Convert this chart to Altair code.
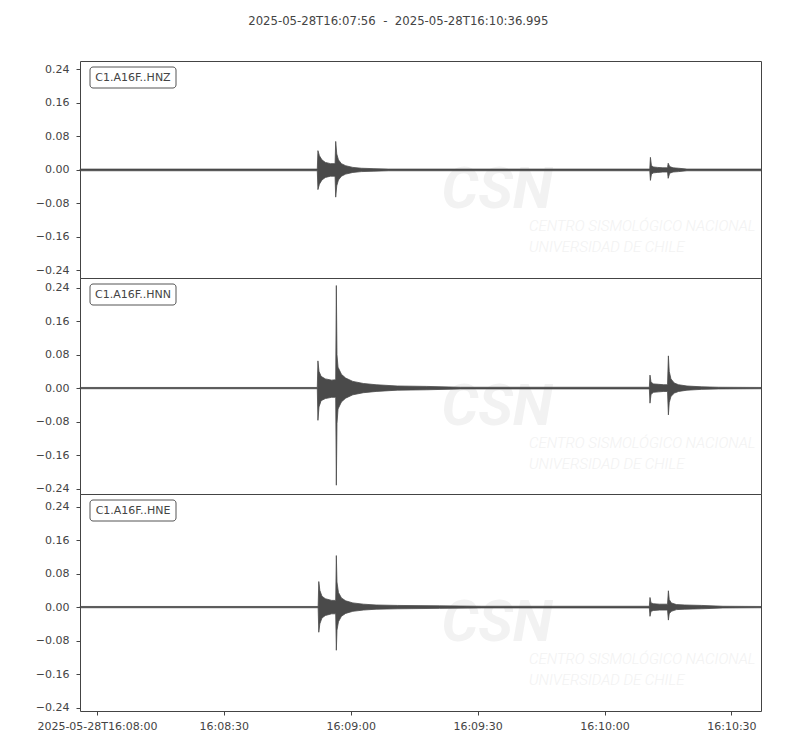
import altair as alt
import pandas as pd

TITLE = "2025-05-28T16:07:56\u00a0 -\u00a0 2025-05-28T16:10:36.995"
CHANNELS = ["C1.A16F..HNZ", "C1.A16F..HNN", "C1.A16F..HNE"]

# x axis: seconds after 2025-05-28T16:07:56
X_END = 160.995
X_TICKS = [4, 34, 64, 94, 124, 154]
X_LABELS = ["2025-05-28T16:08:00", "16:08:30", "16:09:00", "16:09:30", "16:10:00", "16:10:30"]
Y_TICKS = [-0.24, -0.16, -0.08, 0.0, 0.08, 0.16, 0.24]
# y limits of each panel (centred on each trace)
Y_DOMAINS = [[-0.258, 0.260], [-0.253, 0.263], [-0.248, 0.270]]

# envelope of each trace (time in s, upper and lower amplitude)
HNZ_T = [0, 56.1, 56.25, 56.6, 57.2, 58.0, 59.2, 60.3, 60.45, 60.7, 61.1, 61.8, 62.8, 64.5, 66.5, 69.5, 73.0,
         134.7, 134.85, 135.1, 135.6, 136.5, 137.8, 138.9, 139.05, 139.4, 140.2, 141.5, 143.5, 160.995]
HNZ_UP = [0.002, 0.002, 0.046, 0.034, 0.024, 0.018, 0.015, 0.015, 0.068, 0.038, 0.024, 0.015, 0.010, 0.006, 0.004, 0.003, 0.002,
          0.002, 0.030, 0.010, 0.007, 0.006, 0.005, 0.005, 0.016, 0.008, 0.005, 0.004, 0.002, 0.002]
HNZ_LO = [-0.002, -0.002, -0.047, -0.034, -0.024, -0.018, -0.015, -0.015, -0.065, -0.038, -0.024, -0.015, -0.010, -0.006, -0.004, -0.003, -0.002,
          -0.002, -0.025, -0.010, -0.007, -0.006, -0.005, -0.005, -0.020, -0.008, -0.005, -0.004, -0.002, -0.002]

HNN_T = [0, 56.1, 56.25, 56.5, 57.0, 58.0, 59.5, 60.45, 60.6, 60.75, 61.0, 61.8, 62.8, 64.5, 67.0, 70.0, 75.0, 82.0, 90.0,
         134.6, 134.75, 135.0, 135.6, 136.8, 138.0, 138.9, 139.1, 139.3, 139.7, 140.5, 141.5, 143.5, 147.0, 151.0, 160.995]
HNN_UP = [0.0015, 0.0015, 0.065, 0.040, 0.028, 0.022, 0.019, 0.020, 0.245, 0.080, 0.050, 0.033, 0.024, 0.016, 0.011, 0.008, 0.005, 0.004, 0.002,
          0.002, 0.031, 0.014, 0.010, 0.009, 0.008, 0.008, 0.077, 0.040, 0.022, 0.012, 0.008, 0.005, 0.003, 0.002, 0.0015]
HNN_LO = [-0.0015, -0.0015, -0.077, -0.045, -0.030, -0.025, -0.022, -0.022, -0.232, -0.085, -0.050, -0.033, -0.024, -0.016, -0.011, -0.008, -0.005, -0.004, -0.002,
          -0.002, -0.036, -0.015, -0.010, -0.009, -0.008, -0.008, -0.064, -0.035, -0.020, -0.012, -0.008, -0.005, -0.003, -0.002, -0.0015]

HNE_T = [0, 56.3, 56.45, 56.7, 57.2, 58.0, 59.5, 60.45, 60.6, 60.75, 61.1, 61.8, 62.8, 64.5, 67.0, 70.0, 75.0, 85.0, 95.0,
         134.6, 134.75, 135.0, 135.6, 137.0, 138.9, 139.1, 139.3, 139.8, 141.0, 143.0, 147.0, 152.0, 160.995]
HNE_UP = [0.0015, 0.0015, 0.061, 0.040, 0.026, 0.020, 0.016, 0.016, 0.123, 0.060, 0.035, 0.022, 0.015, 0.010, 0.007, 0.005, 0.004, 0.003, 0.002,
          0.002, 0.023, 0.010, 0.008, 0.007, 0.007, 0.039, 0.018, 0.010, 0.006, 0.005, 0.004, 0.002, 0.0015]
HNE_LO = [-0.0015, -0.0015, -0.060, -0.040, -0.026, -0.020, -0.016, -0.016, -0.103, -0.055, -0.035, -0.022, -0.015, -0.010, -0.007, -0.005, -0.004, -0.003, -0.002,
          -0.002, -0.022, -0.010, -0.008, -0.007, -0.007, -0.031, -0.016, -0.010, -0.006, -0.005, -0.004, -0.002, -0.0015]

TRACES = [(HNZ_T, HNZ_UP, HNZ_LO), (HNN_T, HNN_UP, HNN_LO), (HNE_T, HNE_UP, HNE_LO)]

TRACE = "#4a4a4a"
TEXT = "#444444"
WM = "#f2f2f2"
FONT = "DejaVu Sans"
W = 681
HEIGHTS = [217, 216, 217]

x_label_expr = " : ".join(f"datum.value == {v} ? '{l}'" for v, l in zip(X_TICKS, X_LABELS)) + " : ''"
y_label_expr = "replace(format(datum.value, '.2f'), '-', '\u2212')"

one = pd.DataFrame({"k": [0]})


def panel(name, t, up, lo, ydom, h, last):
    df = pd.DataFrame({"t": t, "up": up, "lo": lo})
    xscale = alt.Scale(domain=[0, X_END], nice=False, zero=False)
    if last:
        xaxis = alt.Axis(values=X_TICKS, labelExpr=x_label_expr, tickSize=4, labelPadding=5,
                         labelFlush=False, labelOverlap=False, labelBound=False, domain=False, grid=False)
    else:
        xaxis = None
    yaxis = alt.Axis(values=Y_TICKS, labelExpr=y_label_expr, tickSize=4, labelPadding=7,
                     domain=False, grid=False, minExtent=66, maxExtent=66)
    trace = alt.Chart(df).mark_area(color=TRACE, stroke=TRACE, strokeWidth=0.8, interpolate="linear").encode(
        x=alt.X("t:Q", scale=xscale, axis=xaxis, title=None),
        y=alt.Y("up:Q", scale=alt.Scale(domain=ydom, nice=False, zero=False), axis=yaxis, title=None),
        y2="lo:Q",
    )
    wm1 = alt.Chart(one).mark_text(text="CSN", font="Roboto", fontSize=58, fontWeight="bold", fontStyle="italic",
                                   color=WM, align="center", baseline="alphabetic", clip=True).encode(
        x=alt.value(417), y=alt.value(147))
    wm2 = alt.Chart(one).mark_text(text="CENTRO SISMOLÓGICO NACIONAL", font="Roboto", fontSize=15, fontStyle="italic",
                                   fontWeight=300, color=WM, align="left", baseline="alphabetic", clip=True).encode(
        x=alt.value(449), y=alt.value(170))
    wm3 = alt.Chart(one).mark_text(text="UNIVERSIDAD DE CHILE", font="Roboto", fontSize=15, fontStyle="italic",
                                   fontWeight=300, color=WM, align="left", baseline="alphabetic", clip=True).encode(
        x=alt.value(449), y=alt.value(191))
    box = alt.Chart(one).mark_rect(fill="white", stroke="#555555", strokeWidth=1, cornerRadius=3).encode(
        x=alt.value(10), x2=alt.value(96), y=alt.value(6), y2=alt.value(27))
    lab = alt.Chart(one).mark_text(text=name, font=FONT, fontSize=11, color=TEXT, align="center",
                                   baseline="middle").encode(x=alt.value(53), y=alt.value(16.5))
    return alt.layer(wm1, wm2, wm3, trace, box, lab).properties(width=W, height=h)


panels = [panel(n, *tr, ydom=d, h=h, last=(i == 2))
          for i, (n, tr, d, h) in enumerate(zip(CHANNELS, TRACES, Y_DOMAINS, HEIGHTS))]

chart = alt.vconcat(*panels, spacing=0, bounds="flush").properties(
    title=alt.TitleParams(TITLE, font=FONT, fontSize=11.7, fontWeight="normal", color=TEXT,
                          anchor="middle", frame="bounds", offset=33, dx=10),
    padding={"left": 5, "top": 7, "right": 5, "bottom": 5},
).configure_view(stroke="#444444", strokeWidth=1).configure_axis(
    labelFont=FONT, labelFontSize=11, labelColor=TEXT, tickColor=TEXT, tickWidth=1,
)

chart.save("out.html", embed_options={"renderer": "svg", "actions": False})
